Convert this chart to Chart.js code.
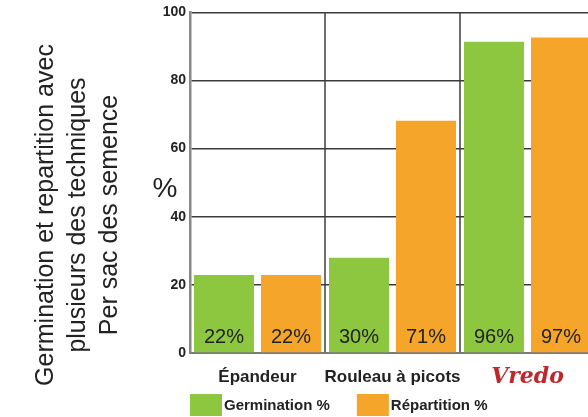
<!DOCTYPE html>
<html>
<head>
<meta charset="utf-8">
<script src="https://cdn.jsdelivr.net/npm/chart.js@4/dist/chart.umd.min.js"></script>
<style>
  html, body { margin: 0; padding: 0; background: #fff; overflow: hidden; }
  #wrap { position: relative; width: 600px; height: 417px; }
</style>
</head>
<body>
<div id="wrap"><canvas id="chart"></canvas></div>
<script>
const categories = ["Épandeur", "Rouleau à picots", "Vredo"];
const seriesNames = ["Germination %", "Répartition %"];
const germination = [22.9, 28, 91.4];
const repartition = [22.9, 68.2, 92.6];
const germinationLabels = ["22%", "30%", "96%"];
const repartitionLabels = ["22%", "71%", "97%"];
const titleLines = ["Germination et repartition avec", "plusieurs des techniques", "Per sac des semence"];
const unitLabel = "%";

const GREEN = "#8dc63f";
const ORANGE = "#f5a52a";
const FONT = "'Liberation Sans', Arial, sans-serif";
Chart.defaults.font.family = FONT;

// side title, "%" label, values inside bars, custom legend
const decorations = {
  id: "decorations",
  afterDatasetsDraw(chart) {
    const { ctx, scales } = chart;
    const zero = scales.y.getPixelForValue(0);
    const labels = [germinationLabels, repartitionLabels];
    ctx.save();
    ctx.fillStyle = "#222";
    ctx.font = `20px ${FONT}`;
    ctx.textAlign = "center";
    ctx.textBaseline = "alphabetic";
    labels.forEach((set, d) => {
      chart.getDatasetMeta(d).data.forEach((bar, i) => {
        ctx.fillText(set[i], bar.x, zero - 10);
      });
    });
    ctx.restore();
  },
  afterDraw(chart) {
    const { ctx, chartArea } = chart;
    ctx.save();
    ctx.fillStyle = "#222";
    ctx.font = `25px ${FONT}`;
    ctx.textAlign = "center";
    ctx.textBaseline = "alphabetic";
    titleLines.forEach((line, i) => {
      ctx.save();
      ctx.translate(53 + i * 32, 215);
      ctx.rotate(-Math.PI / 2);
      ctx.fillText(line, 0, 0);
      ctx.restore();
    });
    ctx.font = `28px ${FONT}`;
    ctx.fillText(unitLabel, chartArea.left - 25, 197);

    // legend
    const colors = [GREEN, ORANGE];
    let x = chartArea.left;
    ctx.font = `bold 15px ${FONT}`;
    ctx.textAlign = "left";
    ctx.textBaseline = "middle";
    seriesNames.forEach((name, i) => {
      ctx.fillStyle = colors[i];
      ctx.fillRect(x, 394, 32, 22);
      ctx.fillStyle = "#222";
      ctx.fillText(name, x + 34, 406);
      x += 34 + ctx.measureText(name).width + 27;
    });
    ctx.restore();
  }
};

new Chart(document.getElementById("chart"), {
  type: "bar",
  data: {
    labels: categories,
    datasets: [
      { label: seriesNames[0], data: germination, backgroundColor: GREEN },
      { label: seriesNames[1], data: repartition, backgroundColor: ORANGE },
    ],
  },
  options: {
    responsive: true,
    maintainAspectRatio: false,
    animation: false,
    layout: { padding: { left: 0, top: 12, right: 5, bottom: 0 } },
    datasets: { bar: { categoryPercentage: 134 / 135, barPercentage: 60 / 67 } },
    plugins: { legend: { display: false }, tooltip: { enabled: false } },
    scales: {
      x: {
        grid: { color: "#6e6e6e", lineWidth: 2, drawTicks: false },
        border: { color: "#7a7a7a", width: 2 },
        ticks: {
          padding: 15,
          autoSkip: false,
          maxRotation: 0,
          minRotation: 0,
          color: (c) => (c.index === 2 ? "#c0272d" : "#222"),
          font: (c) =>
            c.index === 2
              ? { family: "'DejaVu Serif', serif", size: 22, style: "italic", weight: "bold", lineHeight: 0.8 }
              : { size: 17, weight: "bold", lineHeight: 1.1 },
        },
        afterFit: (scale) => { scale.height = 64; },
      },
      y: {
        min: 0,
        max: 100,
        ticks: { stepSize: 20, padding: 4, color: "#222", font: { size: 14, weight: "bold" } },
        grid: { color: "#3a3a3a", lineWidth: 1.5, drawTicks: false },
        border: { color: "#888", width: 2.5 },
        afterFit: (scale) => { scale.width = 190; },
      },
    },
  },
  plugins: [decorations],
});
</script>
</body>
</html>
